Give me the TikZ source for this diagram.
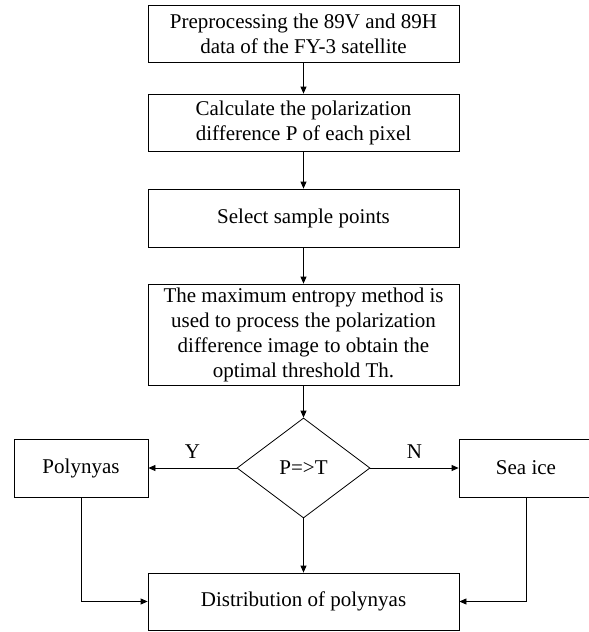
\documentclass[tikz,border=0pt]{standalone}
\usepackage{fontspec}
\setmainfont{Liberation Serif}
\usetikzlibrary{shapes.geometric,arrows.meta}

\begin{document}
\begin{tikzpicture}[
  x=1pt, y=-1pt,
  font=\fontsize{21}{25}\selectfont,
  stepbox/.style={draw, line width=0.8pt, minimum width=311pt, minimum height=57pt, align=center, inner sep=0pt},
  sidebox/.style={draw, line width=0.8pt, minimum width=134pt, minimum height=58pt, inner sep=0pt},
  decide/.style={draw, line width=0.8pt, diamond, aspect=1.33, minimum width=133pt, minimum height=100pt, inner sep=0pt},
  flow/.style={line width=0.8pt, -{Triangle[length=7pt,width=6pt]}},
]
  \useasboundingbox (0,0) rectangle (589,632);
  % main column
  \node[stepbox] (prep) at (303.5, 33.5) {Preprocessing the 89V and 89H\\data of the FY-3 satellite};
  \node[stepbox] (calc) at (303.5, 122.5) {Calculate the polarization\\difference P of each pixel};
  \node[stepbox, minimum height=58pt] (sel) at (303.5, 218) {Select sample points};
  \node[stepbox, minimum height=101pt] (ment) at (303.5, 334.5) {The maximum entropy method is\\used to process the polarization\\difference image to obtain the\\optimal threshold Th.};
  \node[decide] (cmp) at (303.5, 468) {P=>T};
  \node[stepbox] (dist) at (303.5, 601.5) {Distribution of polynyas};
  % branches
  \node[sidebox] (poly) at (81, 468) {Polynyas};
  \node[sidebox] (ice) at (526, 468) {Sea ice};

  \draw[flow] (prep) -- (calc);
  \draw[flow] (calc) -- (sel);
  \draw[flow] (sel) -- (ment);
  \draw[flow] (ment) -- (cmp);
  \draw[flow] (cmp) -- (poly) node[midway, above=6pt] {Y};
  \draw[flow] (cmp) -- (ice) node[midway, above=6pt] {N};
  \draw[flow] (cmp) -- (dist);
  \draw[flow] (poly.south) |- (dist.west);
  \draw[flow] (ice.south) |- (dist.east);
\end{tikzpicture}
\end{document}
